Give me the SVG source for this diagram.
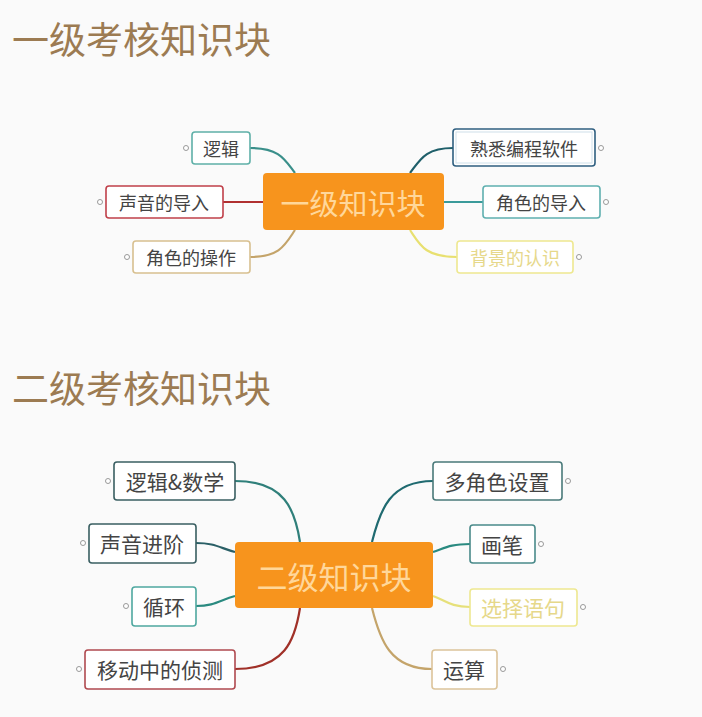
<svg xmlns="http://www.w3.org/2000/svg" width="702" height="717" viewBox="0 0 702 717">
<style>
text{font-family:"Noto Sans CJK SC","Liberation Sans",sans-serif}
.t{font-size:37px;fill:#9c7b52}
.n{fill:#fff;stroke-width:1.6}
.l{font-size:18px;fill:#444;text-anchor:middle;dominant-baseline:central}
.l2{font-size:21px;fill:#444;text-anchor:middle;dominant-baseline:central}
.c{fill:#ffd79a;font-size:29px;text-anchor:middle;dominant-baseline:central}
.cb{fill:#f7941d}
.d{fill:#fff;stroke:#999;stroke-width:1}
.e{fill:none;stroke-width:2.2}
</style>
<rect width="702" height="717" fill="#fafafa"/>
<text class="t" x="12" y="54">一级考核知识块</text>
<text class="t" x="12" y="403">二级考核知识块</text>
<g id="connectors">
<path class="e" stroke="#3a8f8a" d="M250,148 C280,148 285,160 295,173"/>
<path class="e" stroke="#b03030" d="M223,202 L263,202"/>
<path class="e" stroke="#c4a46a" d="M250,257 C280,257 285,245 295,230"/>
<path class="e" stroke="#1f5f6a" d="M453,148 C425,148 420,160 410,173"/>
<path class="e" stroke="#3a9a9a" d="M483,202 L444,202"/>
<path class="e" stroke="#e8e070" d="M457,257 C425,257 420,245 410,230"/>
<path class="e" stroke="#2f7f7a" d="M235,481 C285,481 295,510 300,542"/>
<path class="e" stroke="#2a5f66" d="M196,543 C215,543 220,548 235,552"/>
<path class="e" stroke="#2a8a80" d="M196,606 C215,606 220,600 235,596"/>
<path class="e" stroke="#a03028" d="M235,669 C285,669 295,640 300,608"/>
<path class="e" stroke="#1f6a70" d="M433,481 C390,481 380,510 372,542"/>
<path class="e" stroke="#2a8a80" d="M470,544 C450,544 445,548 433,552"/>
<path class="e" stroke="#e6e07a" d="M470,607 C450,607 445,600 433,596"/>
<path class="e" stroke="#c4a46a" d="M432,669 C390,669 380,640 372,608"/>
</g>
<g id="c1"><rect class="cb" x="263" y="173" width="181" height="57" rx="4"/><text class="c" x="353" y="202">一级知识块</text></g>
<g id="n1"><rect class="n" stroke="#5fb0a8" x="192" y="132" width="58" height="32" rx="3"/><text class="l" x="221" y="148">逻辑</text><circle class="d" cx="186" cy="148" r="2.5"/></g>
<g id="n2"><rect class="n" stroke="#c0404a" x="106" y="186" width="117" height="32" rx="3"/><text class="l" x="164" y="202">声音的导入</text><circle class="d" cx="100" cy="202" r="2.5"/></g>
<g id="n3"><rect class="n" stroke="#d8c090" x="133" y="241" width="117" height="32" rx="3"/><text class="l" x="191" y="257">角色的操作</text><circle class="d" cx="127" cy="257" r="2.5"/></g>
<g id="n4"><rect class="n" stroke="#2f5f80" stroke-width="3" x="453" y="129" width="142" height="37" rx="3"/><rect fill="none" stroke="#cfe0ea" x="456" y="132" width="136" height="31"/><text class="l" x="524" y="148">熟悉编程软件</text><circle class="d" cx="601" cy="148" r="2.5"/></g>
<g id="n5"><rect class="n" stroke="#5fb0b0" x="483" y="186" width="117" height="32" rx="3"/><text class="l" x="541" y="202">角色的导入</text><circle class="d" cx="606" cy="202" r="2.5"/></g>
<g id="n6"><rect class="n" stroke="#eee890" x="457" y="241" width="116" height="32" rx="3"/><text class="l" x="515" y="257" style="fill:#e6d88a">背景的认识</text><circle class="d" cx="579" cy="257" r="2.5"/></g>
<g id="c2"><rect class="cb" x="235" y="542" width="198" height="66" rx="4"/><text class="c" x="334" y="575" style="font-size:31px">二级知识块</text></g>
<g id="m1"><rect class="n" stroke="#3a5f62" x="114" y="462" width="121" height="38" rx="3"/><text class="l2" x="175" y="481">逻辑&amp;数学</text><circle class="d" cx="108" cy="481" r="2.5"/></g>
<g id="m2"><rect class="n" stroke="#3a5f62" x="89" y="524" width="107" height="39" rx="3"/><text class="l2" x="142" y="543">声音进阶</text><circle class="d" cx="83" cy="543" r="2.5"/></g>
<g id="m3"><rect class="n" stroke="#4fa8a0" x="132" y="587" width="64" height="39" rx="3"/><text class="l2" x="164" y="606">循环</text><circle class="d" cx="126" cy="606" r="2.5"/></g>
<g id="m4"><rect class="n" stroke="#b04a50" x="85" y="650" width="150" height="39" rx="3"/><text class="l2" x="160" y="669">移动中的侦测</text><circle class="d" cx="79" cy="669" r="2.5"/></g>
<g id="m5"><rect class="n" stroke="#4a7a7a" x="433" y="462" width="129" height="38" rx="3"/><text class="l2" x="497" y="481">多角色设置</text><circle class="d" cx="568" cy="481" r="2.5"/></g>
<g id="m6"><rect class="n" stroke="#4a8a8a" x="470" y="525" width="65" height="38" rx="3"/><text class="l2" x="502" y="544">画笔</text><circle class="d" cx="541" cy="544" r="2.5"/></g>
<g id="m7"><rect class="n" stroke="#eee890" x="470" y="589" width="107" height="37" rx="3"/><text class="l2" x="523" y="607" style="fill:#e6d88a">选择语句</text><circle class="d" cx="583" cy="607" r="2.5"/></g>
<g id="m8"><rect class="n" stroke="#dcc49a" x="432" y="650" width="65" height="39" rx="3"/><text class="l2" x="464" y="669">运算</text><circle class="d" cx="503" cy="669" r="2.5"/></g>
</svg>
